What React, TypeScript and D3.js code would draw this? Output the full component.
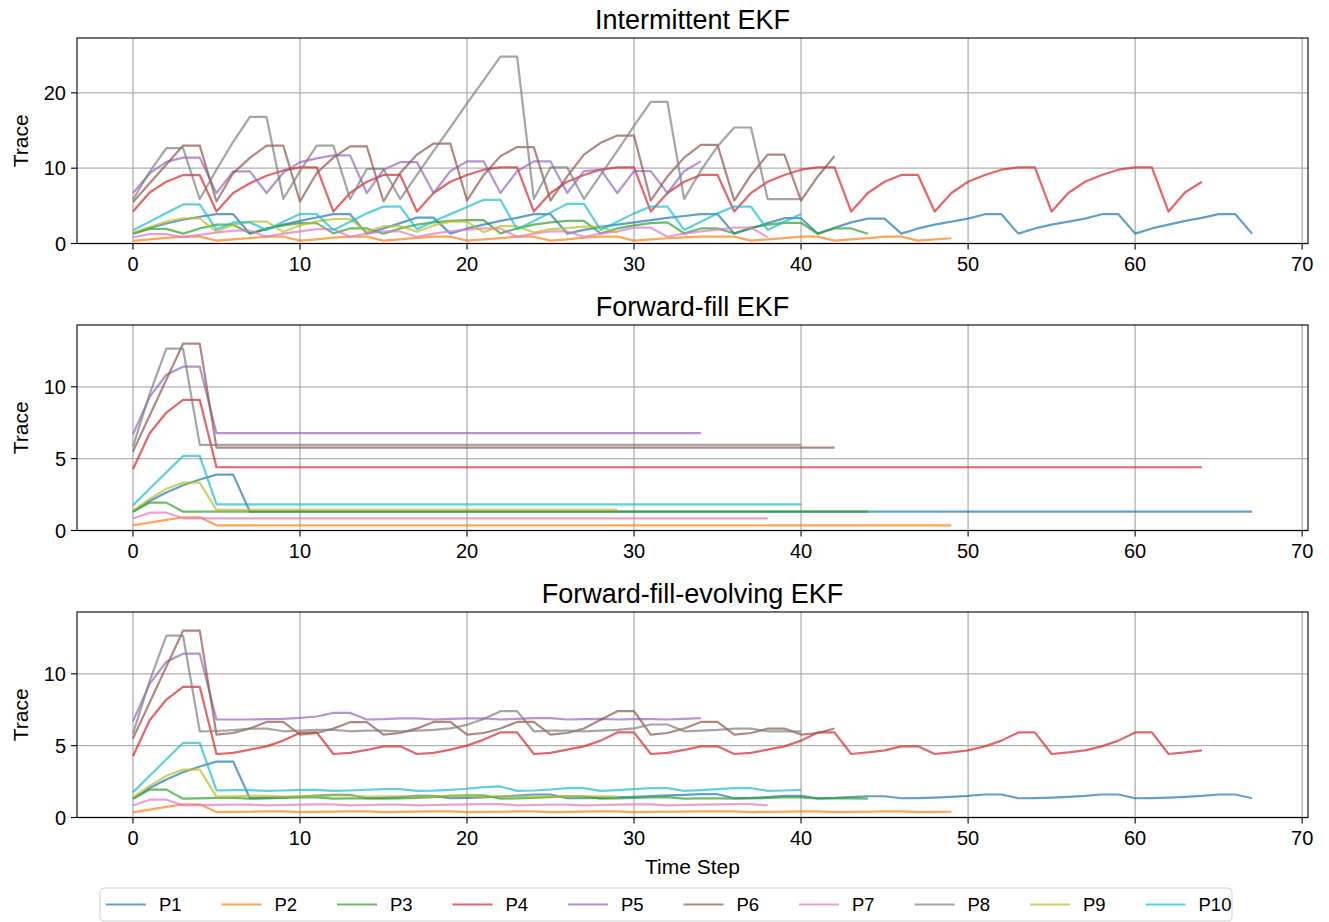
import React from "react";
import * as d3 from "d3";

const seriesNames = ["P1", "P2", "P3", "P4", "P5", "P6", "P7", "P8", "P9", "P10"];
const colors = d3.schemeCategory10;
const xTicks = [0, 10, 20, 30, 40, 50, 60, 70];

// Intermittent EKF (trace per time step)
const intP1 = [1.31, 2.05, 2.65, 3.15, 3.55, 3.89, 3.89, 1.31, 1.9, 2.5, 3.0, 3.45, 3.89, 3.89, 1.31, 2.0, 2.7, 3.44, 3.44, 1.31, 2.0, 2.5, 3.0, 3.4, 3.89, 3.89, 1.31, 1.8, 2.2, 2.5, 2.8, 3.1, 3.4, 3.65, 3.89, 3.89, 1.31, 2.0, 2.7, 3.36, 3.36, 1.31, 2.1, 2.8, 3.3, 3.3, 1.31, 2.0, 2.5, 2.9, 3.3, 3.89, 3.89, 1.31, 2.0, 2.5, 2.9, 3.3, 3.89, 3.89, 1.31, 2.0, 2.5, 3.0, 3.4, 3.89, 3.89, 1.31];
const intP2 = [0.36, 0.55, 0.74, 0.92, 0.92, 0.38, 0.56, 0.72, 0.9, 0.9, 0.38, 0.56, 0.78, 0.91, 0.91, 0.38, 0.56, 0.75, 0.91, 0.91, 0.38, 0.56, 0.72, 0.9, 0.9, 0.38, 0.56, 0.78, 0.92, 0.92, 0.38, 0.56, 0.7, 0.82, 0.9, 0.92, 0.92, 0.38, 0.56, 0.72, 0.91, 0.91, 0.38, 0.56, 0.72, 0.91, 0.91, 0.38, 0.56, 0.7];
const intP3 = [1.31, 1.94, 1.94, 1.31, 2.0, 2.5, 2.5, 1.35, 2.0, 2.4, 2.7, 2.7, 1.35, 2.0, 2.0, 1.3, 2.0, 2.5, 2.8, 3.0, 3.1, 3.1, 1.35, 2.0, 2.5, 2.8, 3.0, 3.0, 1.35, 2.0, 2.4, 2.7, 2.8, 1.35, 2.0, 2.0, 1.35, 2.1, 2.5, 2.75, 2.75, 1.3, 2.0, 2.0, 1.3];
const intP4 = [4.26, 6.77, 8.21, 9.09, 9.09, 4.24, 6.7, 8.0, 9.0, 9.7, 10.1, 10.1, 4.24, 6.7, 8.2, 9.1, 9.1, 4.24, 6.7, 8.2, 9.1, 9.8, 10.1, 10.1, 4.24, 6.7, 8.2, 9.1, 9.8, 10.1, 10.1, 4.24, 6.7, 8.2, 9.1, 9.1, 4.24, 6.7, 8.2, 9.1, 9.8, 10.1, 10.1, 4.24, 6.7, 8.2, 9.1, 9.1, 4.24, 6.7, 8.2, 9.1, 9.8, 10.1, 10.1, 4.24, 6.7, 8.2, 9.1, 9.8, 10.1, 10.1, 4.24, 6.8, 8.2];
const intP5 = [6.7, 9.3, 10.84, 11.4, 11.4, 6.69, 9.58, 9.58, 6.7, 9.4, 10.8, 11.3, 11.7, 11.7, 6.7, 9.8, 10.8, 10.8, 6.7, 9.6, 10.9, 10.9, 6.7, 9.6, 10.9, 10.9, 6.7, 9.6, 9.8, 6.7, 9.6, 9.6, 6.7, 9.6, 10.9];
const intP6 = [5.49, 8.0, 10.5, 13.0, 13.0, 5.58, 9.35, 11.36, 13.0, 13.0, 5.58, 9.35, 11.4, 12.9, 12.9, 5.58, 9.36, 11.8, 13.27, 13.27, 5.7, 9.1, 11.6, 12.8, 12.8, 5.7, 8.9, 11.8, 13.36, 14.33, 14.33, 5.7, 8.9, 11.4, 13.1, 13.1, 5.7, 9.1, 11.8, 11.8, 5.7, 8.9, 11.6];
const intP7 = [0.83, 1.24, 1.24, 0.85, 1.15, 1.45, 1.7, 1.7, 0.9, 1.3, 1.6, 1.9, 1.9, 0.9, 1.3, 1.6, 1.6, 0.9, 1.3, 1.6, 1.85, 2.0, 2.0, 0.9, 1.3, 1.6, 1.6, 0.9, 1.3, 1.6, 2.1, 2.1, 0.9, 1.3, 1.6, 1.85, 2.1, 2.1, 0.85];
const intP8 = [5.84, 9.5, 12.65, 12.65, 5.9, 9.8, 13.5, 16.8, 16.8, 5.9, 9.6, 13.0, 13.0, 5.9, 9.9, 9.9, 5.9, 9.1, 12.3, 15.4, 18.6, 21.7, 24.8, 24.8, 5.9, 10.1, 10.1, 5.9, 9.1, 12.3, 15.6, 18.8, 18.8, 5.9, 9.7, 12.9, 15.4, 15.4, 5.9, 5.9, 5.9];
const intP9 = [1.4, 2.2, 2.9, 3.33, 3.33, 1.55, 2.5, 2.9, 2.9, 1.55, 2.4, 2.9, 3.25, 3.25, 1.55, 2.3, 2.3, 1.55, 2.4, 2.9, 2.9, 1.5, 2.3, 2.3, 1.45, 1.9, 2.05, 2.24, 2.24, 1.45];
const intP10 = [1.75, 2.9, 4.05, 5.19, 5.19, 1.85, 2.8, 2.8, 1.8, 2.9, 3.9, 3.9, 1.8, 2.9, 4.0, 4.9, 4.9, 1.9, 2.95, 3.9, 4.85, 5.8, 5.8, 1.9, 3.0, 4.1, 5.27, 5.27, 1.8, 2.9, 4.0, 4.9, 4.9, 1.8, 2.9, 4.0, 4.9, 4.9, 1.8, 2.9, 3.9];

// Forward-fill EKF
const ffP1 = [1.31, 2.05, 2.65, 3.15, 3.55, 3.89, 3.89, 1.31, 1.31, 1.31, 1.31, 1.31, 1.31, 1.31, 1.31, 1.31, 1.31, 1.31, 1.31, 1.31, 1.31, 1.31, 1.31, 1.31, 1.31, 1.31, 1.31, 1.31, 1.31, 1.31, 1.31, 1.31, 1.31, 1.31, 1.31, 1.31, 1.31, 1.31, 1.31, 1.31, 1.31, 1.31, 1.31, 1.31, 1.31, 1.31, 1.31, 1.31, 1.31, 1.31, 1.31, 1.31, 1.31, 1.31, 1.31, 1.31, 1.31, 1.31, 1.31, 1.31, 1.31, 1.31, 1.31, 1.31, 1.31, 1.31, 1.31, 1.31];
const ffP2 = [0.36, 0.55, 0.74, 0.92, 0.92, 0.36, 0.36, 0.36, 0.36, 0.36, 0.36, 0.36, 0.36, 0.36, 0.36, 0.36, 0.36, 0.36, 0.36, 0.36, 0.36, 0.36, 0.36, 0.36, 0.36, 0.36, 0.36, 0.36, 0.36, 0.36, 0.36, 0.36, 0.36, 0.36, 0.36, 0.36, 0.36, 0.36, 0.36, 0.36, 0.36, 0.36, 0.36, 0.36, 0.36, 0.36, 0.36, 0.36, 0.36, 0.36];
const ffP3 = [1.31, 1.94, 1.94, 1.31, 1.31, 1.31, 1.31, 1.31, 1.31, 1.31, 1.31, 1.31, 1.31, 1.31, 1.31, 1.31, 1.31, 1.31, 1.31, 1.31, 1.31, 1.31, 1.31, 1.31, 1.31, 1.31, 1.31, 1.31, 1.31, 1.31, 1.31, 1.31, 1.31, 1.31, 1.31, 1.31, 1.31, 1.31, 1.31, 1.31, 1.31, 1.31, 1.31, 1.31, 1.31];
const ffP4 = [4.26, 6.77, 8.21, 9.09, 9.09, 4.4, 4.4, 4.4, 4.4, 4.4, 4.4, 4.4, 4.4, 4.4, 4.4, 4.4, 4.4, 4.4, 4.4, 4.4, 4.4, 4.4, 4.4, 4.4, 4.4, 4.4, 4.4, 4.4, 4.4, 4.4, 4.4, 4.4, 4.4, 4.4, 4.4, 4.4, 4.4, 4.4, 4.4, 4.4, 4.4, 4.4, 4.4, 4.4, 4.4, 4.4, 4.4, 4.4, 4.4, 4.4, 4.4, 4.4, 4.4, 4.4, 4.4, 4.4, 4.4, 4.4, 4.4, 4.4, 4.4, 4.4, 4.4, 4.4, 4.4];
const ffP5 = [6.7, 9.3, 10.84, 11.4, 11.4, 6.77, 6.77, 6.77, 6.77, 6.77, 6.77, 6.77, 6.77, 6.77, 6.77, 6.77, 6.77, 6.77, 6.77, 6.77, 6.77, 6.77, 6.77, 6.77, 6.77, 6.77, 6.77, 6.77, 6.77, 6.77, 6.77, 6.77, 6.77, 6.77, 6.77];
const ffP6 = [5.49, 8.0, 10.5, 13.0, 13.0, 5.77, 5.77, 5.77, 5.77, 5.77, 5.77, 5.77, 5.77, 5.77, 5.77, 5.77, 5.77, 5.77, 5.77, 5.77, 5.77, 5.77, 5.77, 5.77, 5.77, 5.77, 5.77, 5.77, 5.77, 5.77, 5.77, 5.77, 5.77, 5.77, 5.77, 5.77, 5.77, 5.77, 5.77, 5.77, 5.77, 5.77, 5.77];
const ffP7 = [0.83, 1.24, 1.24, 0.85, 0.85, 0.85, 0.85, 0.85, 0.85, 0.85, 0.85, 0.85, 0.85, 0.85, 0.85, 0.85, 0.85, 0.85, 0.85, 0.85, 0.85, 0.85, 0.85, 0.85, 0.85, 0.85, 0.85, 0.85, 0.85, 0.85, 0.85, 0.85, 0.85, 0.85, 0.85, 0.85, 0.85, 0.85, 0.85];
const ffP8 = [5.84, 9.5, 12.65, 12.65, 5.96, 5.96, 5.96, 5.96, 5.96, 5.96, 5.96, 5.96, 5.96, 5.96, 5.96, 5.96, 5.96, 5.96, 5.96, 5.96, 5.96, 5.96, 5.96, 5.96, 5.96, 5.96, 5.96, 5.96, 5.96, 5.96, 5.96, 5.96, 5.96, 5.96, 5.96, 5.96, 5.96, 5.96, 5.96, 5.96, 5.96];
const ffP9 = [1.4, 2.2, 2.9, 3.33, 3.33, 1.43, 1.43, 1.43, 1.43, 1.43, 1.43, 1.43, 1.43, 1.43, 1.43, 1.43, 1.43, 1.43, 1.43, 1.43, 1.43, 1.43, 1.43, 1.43, 1.43, 1.43, 1.43, 1.43, 1.43, 1.43];
const ffP10 = [1.75, 2.9, 4.05, 5.19, 5.19, 1.82, 1.82, 1.82, 1.82, 1.82, 1.82, 1.82, 1.82, 1.82, 1.82, 1.82, 1.82, 1.82, 1.82, 1.82, 1.82, 1.82, 1.82, 1.82, 1.82, 1.82, 1.82, 1.82, 1.82, 1.82, 1.82, 1.82, 1.82, 1.82, 1.82, 1.82, 1.82, 1.82, 1.82, 1.82, 1.82];

// Forward-fill-evolving EKF
const evP1 = [1.31, 2.05, 2.65, 3.15, 3.55, 3.89, 3.89, 1.34, 1.36, 1.4, 1.46, 1.52, 1.58, 1.58, 1.34, 1.36, 1.42, 1.5, 1.5, 1.34, 1.36, 1.4, 1.46, 1.52, 1.6, 1.6, 1.34, 1.35, 1.37, 1.4, 1.44, 1.49, 1.54, 1.58, 1.62, 1.62, 1.34, 1.36, 1.42, 1.5, 1.5, 1.34, 1.36, 1.42, 1.48, 1.48, 1.34, 1.35, 1.38, 1.43, 1.5, 1.6, 1.6, 1.34, 1.35, 1.38, 1.43, 1.5, 1.6, 1.6, 1.34, 1.35, 1.38, 1.43, 1.5, 1.6, 1.6, 1.34];
const evP2 = [0.36, 0.55, 0.74, 0.92, 0.92, 0.38, 0.39, 0.4, 0.42, 0.42, 0.38, 0.39, 0.41, 0.42, 0.42, 0.38, 0.39, 0.41, 0.42, 0.42, 0.38, 0.39, 0.4, 0.42, 0.42, 0.38, 0.39, 0.41, 0.43, 0.43, 0.38, 0.39, 0.4, 0.41, 0.42, 0.43, 0.43, 0.38, 0.39, 0.4, 0.42, 0.42, 0.38, 0.39, 0.4, 0.42, 0.42, 0.38, 0.39, 0.4];
const evP3 = [1.31, 1.94, 1.94, 1.31, 1.33, 1.36, 1.36, 1.31, 1.33, 1.36, 1.4, 1.4, 1.31, 1.33, 1.33, 1.31, 1.33, 1.36, 1.42, 1.5, 1.55, 1.55, 1.31, 1.33, 1.36, 1.42, 1.48, 1.48, 1.31, 1.33, 1.36, 1.4, 1.42, 1.31, 1.33, 1.33, 1.31, 1.33, 1.36, 1.4, 1.4, 1.31, 1.33, 1.33, 1.31];
const evP4 = [4.26, 6.77, 8.21, 9.09, 9.09, 4.42, 4.5, 4.72, 4.95, 5.35, 5.9, 5.92, 4.42, 4.5, 4.7, 4.95, 4.95, 4.42, 4.5, 4.72, 5.0, 5.42, 5.92, 5.92, 4.42, 4.5, 4.72, 4.95, 5.35, 5.92, 5.92, 4.42, 4.5, 4.7, 4.95, 4.95, 4.42, 4.5, 4.72, 4.95, 5.35, 5.92, 5.92, 4.42, 4.53, 4.67, 4.95, 4.95, 4.42, 4.53, 4.67, 4.95, 5.35, 5.92, 5.92, 4.42, 4.53, 4.67, 4.95, 5.35, 5.92, 5.92, 4.42, 4.53, 4.67];
const evP5 = [6.7, 9.3, 10.84, 11.4, 11.4, 6.82, 6.82, 6.82, 6.84, 6.86, 6.93, 7.03, 7.28, 7.28, 6.82, 6.84, 6.9, 6.9, 6.82, 6.86, 6.9, 6.9, 6.82, 6.86, 6.92, 6.92, 6.82, 6.84, 6.86, 6.82, 6.84, 6.84, 6.82, 6.86, 6.92];
const evP6 = [5.49, 8.0, 10.5, 13.0, 13.0, 5.77, 5.88, 6.19, 6.65, 6.65, 5.77, 5.88, 6.19, 6.63, 6.63, 5.77, 5.88, 6.2, 6.65, 6.65, 5.77, 5.88, 6.19, 6.65, 6.65, 5.77, 5.88, 6.19, 6.8, 7.4, 7.4, 5.77, 5.88, 6.19, 6.65, 6.65, 5.77, 5.88, 6.19, 6.19, 5.77, 5.88, 6.19];
const evP7 = [0.83, 1.24, 1.24, 0.85, 0.86, 0.88, 0.9, 0.9, 0.85, 0.87, 0.89, 0.92, 0.92, 0.85, 0.87, 0.89, 0.89, 0.85, 0.87, 0.89, 0.91, 0.93, 0.93, 0.85, 0.87, 0.89, 0.89, 0.85, 0.87, 0.89, 0.92, 0.92, 0.85, 0.87, 0.89, 0.91, 0.93, 0.93, 0.85];
const evP8 = [5.84, 9.5, 12.65, 12.65, 6.0, 6.02, 6.08, 6.19, 6.19, 6.0, 6.04, 6.1, 6.1, 6.0, 6.04, 6.04, 6.0, 6.04, 6.1, 6.2, 6.45, 6.85, 7.4, 7.4, 6.0, 6.04, 6.04, 6.0, 6.04, 6.1, 6.2, 6.47, 6.47, 6.0, 6.04, 6.1, 6.19, 6.19, 6.0, 6.0, 6.0];
const evP9 = [1.4, 2.2, 2.9, 3.33, 3.33, 1.45, 1.48, 1.5, 1.5, 1.45, 1.48, 1.5, 1.53, 1.53, 1.45, 1.48, 1.48, 1.45, 1.48, 1.5, 1.5, 1.45, 1.48, 1.48, 1.45, 1.46, 1.47, 1.48, 1.48, 1.45];
const evP10 = [1.75, 2.9, 4.05, 5.19, 5.19, 1.88, 1.9, 1.9, 1.85, 1.88, 1.92, 1.92, 1.85, 1.88, 1.93, 1.98, 1.98, 1.85, 1.87, 1.92, 2.0, 2.12, 2.16, 1.85, 1.88, 1.95, 2.04, 2.04, 1.85, 1.9, 1.97, 2.04, 2.04, 1.85, 1.9, 1.97, 2.04, 2.04, 1.85, 1.88, 1.92];

const panels = [
  { title: "Intermittent EKF", yTicks: [0, 10, 20], series: [intP1, intP2, intP3, intP4, intP5, intP6, intP7, intP8, intP9, intP10] },
  { title: "Forward-fill EKF", yTicks: [0, 5, 10], series: [ffP1, ffP2, ffP3, ffP4, ffP5, ffP6, ffP7, ffP8, ffP9, ffP10] },
  { title: "Forward-fill-evolving EKF", yTicks: [0, 5, 10], series: [evP1, evP2, evP3, evP4, evP5, evP6, evP7, evP8, evP9, evP10] },
];

const font = "'Liberation Sans', Arial, sans-serif";
const plotLeft = 77;
const plotRight = 1308;
const panelTops = [38, 325, 612];
const panelH = 205.5;

const x = d3.scaleLinear().domain([-3.35, 70.35]).range([plotLeft, plotRight]);

function Panel({ p, top, last }: { p: (typeof panels)[number]; top: number; last: boolean }) {
  const bottom = top + panelH;
  const yMax = 1.1 * d3.max(p.series.flat())!;
  const y = d3.scaleLinear().domain([0, yMax]).range([bottom, top]);
  const line = d3
    .line<number>()
    .x((_, i) => x(i))
    .y((d) => y(d));
  const midY = (top + bottom) / 2;

  return (
    <g>
      {/* grid */}
      {xTicks.map((t) => (
        <line key={"gx" + t} x1={x(t)} x2={x(t)} y1={top} y2={bottom} stroke="#b0b0b0" strokeWidth={1.3} />
      ))}
      {p.yTicks.map((t) => (
        <line key={"gy" + t} x1={plotLeft} x2={plotRight} y1={y(t)} y2={y(t)} stroke="#b0b0b0" strokeWidth={1.3} />
      ))}
      {/* series */}
      {p.series.map((s, i) => (
        <path
          key={i}
          d={line(s)!}
          fill="none"
          stroke={colors[i]}
          strokeWidth={2.2}
          strokeOpacity={0.7}
          strokeLinejoin="round"
        />
      ))}
      {/* frame */}
      <rect x={plotLeft} y={top} width={plotRight - plotLeft} height={panelH} fill="none" stroke="#000" strokeWidth={1.1} />
      {/* x ticks */}
      {xTicks.map((t) => (
        <g key={"tx" + t}>
          <line x1={x(t)} x2={x(t)} y1={bottom} y2={bottom + 6} stroke="#000" strokeWidth={1.1} />
          <text x={x(t)} y={bottom + 13} textAnchor="middle" dominantBaseline="hanging" fontSize={20} fontFamily={font}>
            {t}
          </text>
        </g>
      ))}
      {/* y ticks */}
      {p.yTicks.map((t) => (
        <g key={"ty" + t}>
          <line x1={plotLeft - 6} x2={plotLeft} y1={y(t)} y2={y(t)} stroke="#000" strokeWidth={1.1} />
          <text x={plotLeft - 11} y={y(t)} textAnchor="end" dominantBaseline="central" fontSize={20} fontFamily={font}>
            {t}
          </text>
        </g>
      ))}
      <text
        transform={`translate(20,${midY}) rotate(-90)`}
        textAnchor="middle"
        dominantBaseline="central"
        fontSize={21}
        fontFamily={font}
      >
        Trace
      </text>
      <text x={(plotLeft + plotRight) / 2} y={top - 9} textAnchor="middle" fontSize={27} fontFamily={font}>
        {p.title}
      </text>
      {last && (
        <text x={(plotLeft + plotRight) / 2} y={bottom + 56} textAnchor="middle" fontSize={21} fontFamily={font}>
          Time Step
        </text>
      )}
    </g>
  );
}

export default function App() {
  const legendX = 100;
  const legendY = 888;
  const legendW = 1132;
  const legendH = 33;
  const step = 115.5;
  return (
    <svg width={1329} height={922} style={{ position: "absolute", left: 0, top: 0, background: "#fff" }}>
      <rect width={1329} height={922} fill="#fff" />
      {panels.map((p, i) => (
        <Panel key={p.title} p={p} top={panelTops[i]} last={i === panels.length - 1} />
      ))}
      <rect x={legendX} y={legendY} width={legendW} height={legendH} rx={4} fill="#fff" stroke="#d0d0d0" strokeWidth={1} />
      {seriesNames.map((name, i) => {
        const lx = 106 + i * step;
        const ly = legendY + legendH / 2;
        return (
          <g key={name}>
            <line x1={lx} x2={lx + 40} y1={ly} y2={ly} stroke={colors[i]} strokeWidth={2.2} strokeOpacity={0.7} />
            <text x={lx + 53} y={ly} dominantBaseline="central" fontSize={18.5} fontFamily={font}>
              {name}
            </text>
          </g>
        );
      })}
    </svg>
  );
}
